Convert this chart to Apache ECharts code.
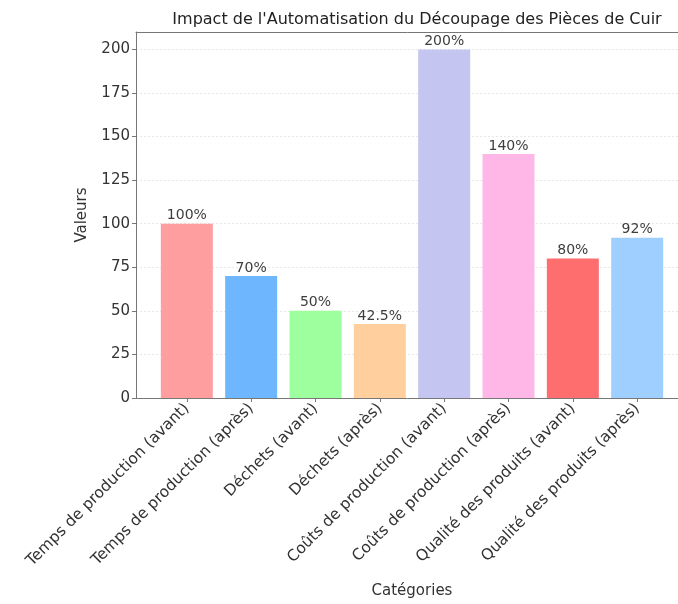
<!DOCTYPE html>
<html>
<head>
<meta charset="utf-8">
<script src="https://cdn.jsdelivr.net/npm/echarts@6/dist/echarts.min.js"></script>
<style>
  html, body { margin: 0; padding: 0; background: #fff; }
  #chart { width: 678px; height: 604px; }
</style>
</head>
<body>
<div id="chart"></div>
<script>
// données du graphique
const categories = [
  'Temps de production (avant)', 'Temps de production (après)',
  'Déchets (avant)', 'Déchets (après)',
  'Coûts de production (avant)', 'Coûts de production (après)',
  'Qualité des produits (avant)', 'Qualité des produits (après)'
];
const values = [100, 70, 50, 42.5, 200, 140, 80, 92];
const valueLabels = ['100%', '70%', '50%', '42.5%', '200%', '140%', '80%', '92%'];
const barColors = ['#ff9999', '#66b3ff', '#99ff99', '#ffcc99', '#c2c2f0', '#ffb3e6', '#ff6666', '#99ccff'];
const yTicks = [0, 25, 50, 75, 100, 125, 150, 175, 200];

const font = 'DejaVu Sans';
const positions = categories.map((c, i) => i);

const chart = echarts.init(document.getElementById('chart'));
chart.setOption({
  animation: false,
  textStyle: { fontFamily: font },
  title: {
    text: "Impact de l'Automatisation du Découpage des Pièces de Cuir",
    left: 412, top: 7, textAlign: 'center',
    textStyle: { fontFamily: font, fontSize: 16, fontWeight: 'normal', color: '#222' }
  },
  // la zone du tracé déborde à droite du cadre, comme dans l'original
  grid: { left: 136, width: 552, top: 32, height: 366, containLabel: false, outerBoundsMode: 'none' },
  xAxis: [{
    type: 'value',
    min: -0.79, max: 7.79,
    name: 'Catégories',
    nameLocation: 'middle',
    nameGap: 186,
    nameTextStyle: { fontFamily: font, fontSize: 15, color: '#333' },
    axisLine: { show: true, onZero: false, lineStyle: { color: '#777', width: 1 } },
    axisTick: { show: true, customValues: positions, length: 4, lineStyle: { color: '#777' } },
    axisLabel: {
      customValues: positions,
      rotate: 45,
      margin: 8,
      fontSize: 15.5,
      color: '#333',
      formatter: v => categories[Math.round(v)]
    },
    splitLine: { show: false }
  }, {
    type: 'value',
    position: 'top',
    min: -0.79, max: 7.79,
    axisLine: { show: true, onZero: false, lineStyle: { color: '#777', width: 1 } },
    axisTick: { show: false },
    axisLabel: { show: false },
    splitLine: { show: false }
  }],
  yAxis: {
    type: 'value',
    min: 0, max: 210,
    name: 'Valeurs',
    nameLocation: 'middle',
    nameGap: 46,
    nameTextStyle: { fontFamily: font, fontSize: 15, color: '#333' },
    axisLine: { show: true, onZero: false, lineStyle: { color: '#777', width: 1 } },
    axisTick: { show: true, customValues: yTicks, length: 4, lineStyle: { color: '#777' } },
    axisLabel: { customValues: yTicks, fontSize: 15, color: '#333', margin: 6 },
    splitLine: { show: true, lineStyle: { color: '#e8e8e8', type: [2, 2], width: 1 } }
  },
  series: [{
    type: 'bar',
    barWidth: 52,
    data: values.map((v, i) => ({
      value: [i, v],
      itemStyle: { color: barColors[i], opacity: 0.95 }
    })),
    label: {
      show: true,
      position: 'top',
      distance: 1,
      fontSize: 14,
      color: '#333',
      formatter: p => valueLabels[p.dataIndex]
    }
  }]
});
</script>
</body>
</html>
